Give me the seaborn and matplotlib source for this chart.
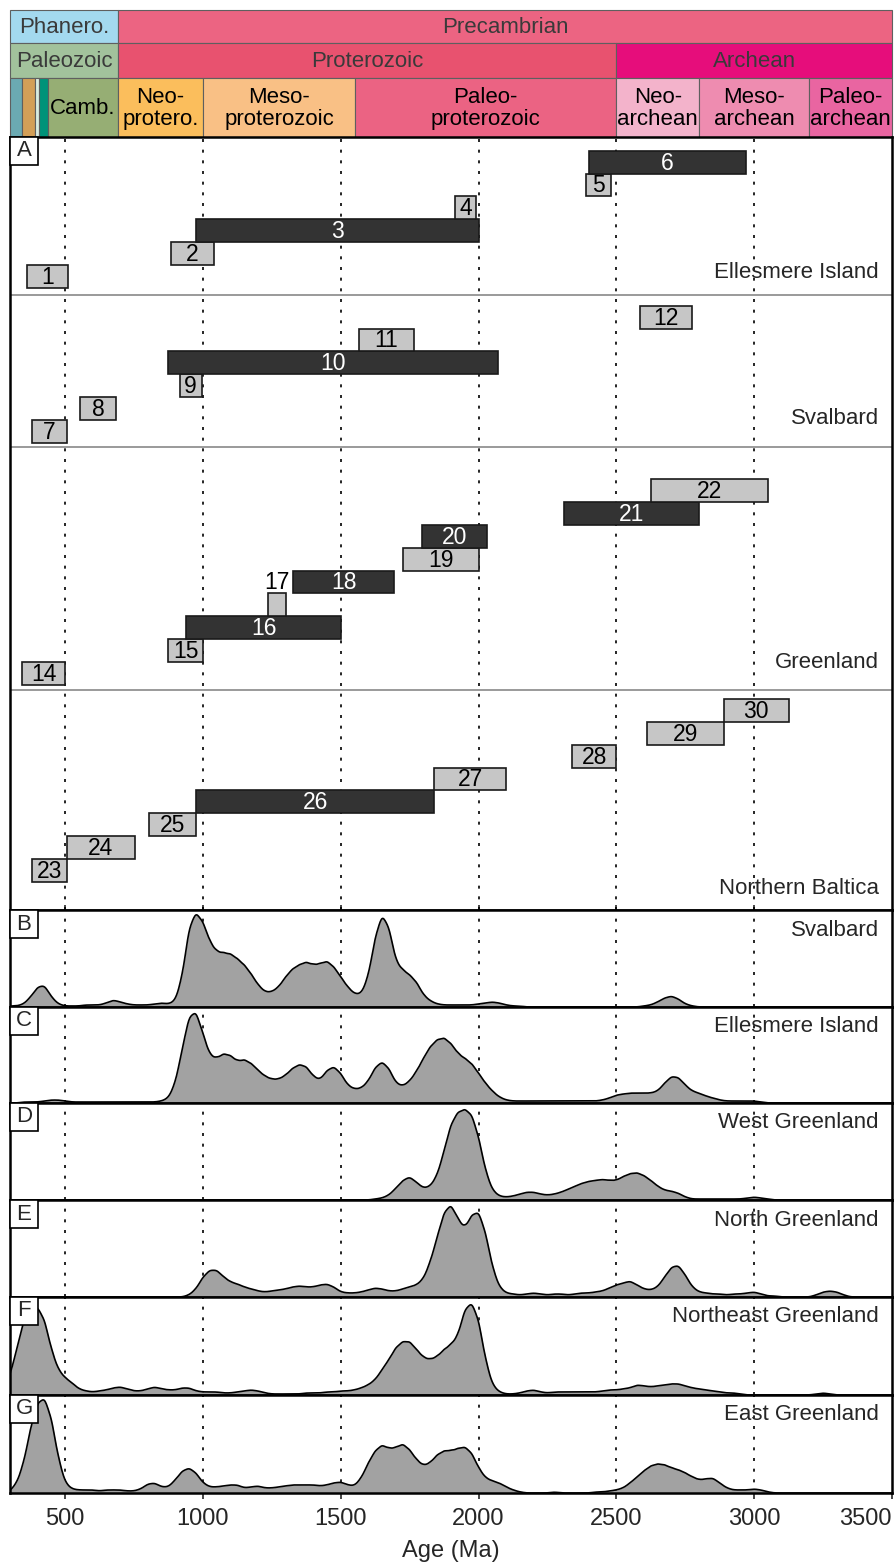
import numpy as np
import pandas as pd
import matplotlib.pyplot as plt
from matplotlib.patches import Rectangle
import seaborn as sns

sns.set_style('white')
plt.rcParams['font.family'] = ['Liberation Sans', 'DejaVu Sans']

# ---------------- timescale header ----------------
EON_NAMES = ['Phanero.', 'Precambrian']
EON_EDGES = [300, 693, 3500]
ERA_NAMES = ['Paleozoic', 'Proterozoic', 'Archean']
ERA_EDGES = [300, 693, 2500, 3500]
SUB_NAMES = ['', '', '', '', 'Camb.', 'Neo-\nprotero.', 'Meso-\nproterozoic',
             'Paleo-\nproterozoic', 'Neo-\narchean', 'Meso-\narchean', 'Paleo-\narchean']
SUB_EDGES = [300, 345, 389, 407, 437, 693, 1000, 1552, 2500, 2800, 3200, 3500]

EON_COLORS = ['#a3d9ef', '#ec6482']
ERA_COLORS = ['#a2c29c', '#e8526f', '#e60d7b']
SUB_COLORS = ['#6baab2', '#d39f57', '#d9ece1', '#009379', '#96ae74', '#fbbe5c',
              '#f9c085', '#eb6383', '#f3b3cb', '#ee8cb0', '#e965a1']

# ---------------- panel A: unit age ranges ----------------
REGIONS = ['Ellesmere Island', 'Svalbard', 'Greenland', 'Northern Baltica']

ELL_NUM = [1, 2, 3, 4, 5, 6]
ELL_FROM = [360, 885, 975, 1915, 2390, 2400]
ELL_TO = [510, 1040, 2000, 1990, 2480, 2970]
ELL_ROW = [0, 1, 2, 3, 4, 5]
ELL_DARK = [False, False, True, False, False, True]

SVA_NUM = [7, 8, 9, 10, 11, 12]
SVA_FROM = [380, 555, 915, 875, 1565, 2585]
SVA_TO = [505, 685, 995, 2070, 1765, 2775]
SVA_ROW = [0, 1, 2, 3, 4, 5]
SVA_DARK = [False, False, False, True, False, False]

GRE_NUM = [14, 15, 16, 17, 18, 19, 20, 21, 22]
GRE_FROM = [345, 875, 940, 1235, 1325, 1725, 1795, 2310, 2625]
GRE_TO = [500, 1000, 1500, 1300, 1695, 2000, 2030, 2800, 3050]
GRE_ROW = [0, 1, 2, 3, 4, 5, 6, 7, 8]
GRE_DARK = [False, False, True, False, True, False, True, True, False]

BAL_NUM = [23, 24, 25, 26, 27, 28, 29, 30]
BAL_FROM = [380, 505, 805, 975, 1840, 2340, 2610, 2890]
BAL_TO = [505, 755, 975, 1840, 2100, 2500, 2890, 3125]
BAL_ROW = [0, 1, 2, 3, 4, 5, 6, 7]
BAL_DARK = [False, False, False, True, False, False, False, False]

# ---------------- panels B-G: detrital age curves ----------------
# heights every 25 Ma (fraction of panel height)
AGE_GRID = list(range(300, 3501, 25))

KDE_LETTERS = ['B', 'C', 'D', 'E', 'F', 'G']
KDE_NAMES = ['Svalbard', 'Ellesmere Island', 'West Greenland', 'North Greenland',
             'Northeast Greenland', 'East Greenland']

SVALBARD = [
    0.01, 0.01, 0.03, 0.10, 0.20, 0.22, 0.10, 0.03,   # 300
    0.01, 0.01, 0.01, 0.02, 0.02, 0.02, 0.04, 0.07,   # 500
    0.05, 0.03, 0.02, 0.02, 0.02, 0.03, 0.04, 0.03,   # 700
    0.06, 0.30, 0.80, 0.95, 0.85, 0.65, 0.55, 0.54,   # 900
    0.53, 0.48, 0.42, 0.33, 0.22, 0.15, 0.15, 0.20,   # 1100
    0.30, 0.38, 0.42, 0.45, 0.42, 0.43, 0.46, 0.40,   # 1300
    0.30, 0.20, 0.13, 0.13, 0.30, 0.70, 0.93, 0.80,   # 1500
    0.45, 0.37, 0.32, 0.25, 0.12, 0.06, 0.03, 0.02,   # 1700
    0.02, 0.02, 0.02, 0.02, 0.03, 0.04, 0.05, 0.04,   # 1900
    0.02, 0.01, 0.01, 0.00, 0.00, 0.00, 0.00, 0.00,   # 2100
    0.00, 0.00, 0.00, 0.00, 0.00, 0.00, 0.00, 0.00,   # 2300
    0.00, 0.00, 0.00, 0.00, 0.01, 0.02, 0.05, 0.09,   # 2500
    0.11, 0.08, 0.03, 0.01, 0.00, 0.00, 0.00, 0.00,   # 2700
    0.00, 0.00, 0.00, 0.00, 0.00, 0.00, 0.00, 0.00,   # 2900
    0.00, 0.00, 0.00, 0.00, 0.00, 0.00, 0.00, 0.00,   # 3100
    0.00, 0.00, 0.00, 0.00, 0.00, 0.00, 0.00, 0.00,   # 3300
    0.00]
ELLESMERE = [
    0.00, 0.00, 0.01, 0.01, 0.01, 0.02, 0.03, 0.03,   # 300
    0.02, 0.01, 0.01, 0.01, 0.01, 0.01, 0.01, 0.01,   # 500
    0.01, 0.01, 0.01, 0.01, 0.01, 0.01, 0.02, 0.05,   # 700
    0.20, 0.55, 0.88, 0.93, 0.70, 0.48, 0.45, 0.50,   # 900
    0.48, 0.42, 0.44, 0.40, 0.33, 0.27, 0.24, 0.24,   # 1100
    0.28, 0.35, 0.39, 0.37, 0.27, 0.23, 0.33, 0.37,   # 1300
    0.30, 0.18, 0.14, 0.15, 0.22, 0.36, 0.42, 0.35,   # 1500
    0.20, 0.17, 0.22, 0.32, 0.45, 0.57, 0.64, 0.66,   # 1700
    0.60, 0.50, 0.45, 0.40, 0.30, 0.20, 0.12, 0.06,   # 1900
    0.03, 0.02, 0.02, 0.02, 0.02, 0.02, 0.02, 0.02,   # 2100
    0.02, 0.02, 0.02, 0.02, 0.02, 0.02, 0.03, 0.05,   # 2300
    0.08, 0.09, 0.10, 0.10, 0.10, 0.10, 0.12, 0.20,   # 2500
    0.27, 0.26, 0.18, 0.12, 0.10, 0.07, 0.05, 0.03,   # 2700
    0.02, 0.02, 0.02, 0.02, 0.02, 0.01, 0.00, 0.00,   # 2900
    0.00, 0.00, 0.00, 0.00, 0.00, 0.00, 0.00, 0.00,   # 3100
    0.00, 0.00, 0.00, 0.00, 0.00, 0.00, 0.00, 0.00,   # 3300
    0.00]
WEST_GREENLAND = [
    0.00, 0.00, 0.00, 0.00, 0.00, 0.00, 0.00, 0.00,   # 300
    0.00, 0.00, 0.00, 0.00, 0.00, 0.00, 0.00, 0.00,   # 500
    0.00, 0.00, 0.00, 0.00, 0.00, 0.00, 0.00, 0.00,   # 700
    0.00, 0.00, 0.00, 0.00, 0.00, 0.00, 0.00, 0.00,   # 900
    0.00, 0.00, 0.00, 0.00, 0.00, 0.00, 0.00, 0.00,   # 1100
    0.00, 0.00, 0.00, 0.00, 0.00, 0.00, 0.00, 0.00,   # 1300
    0.00, 0.00, 0.00, 0.00, 0.00, 0.01, 0.02, 0.05,   # 1500
    0.12, 0.20, 0.24, 0.18, 0.12, 0.14, 0.25, 0.50,   # 1700
    0.78, 0.90, 0.93, 0.88, 0.65, 0.30, 0.10, 0.04,   # 1900
    0.03, 0.04, 0.06, 0.08, 0.08, 0.06, 0.05, 0.06,   # 2100
    0.08, 0.11, 0.14, 0.17, 0.19, 0.20, 0.21, 0.20,   # 2300
    0.20, 0.24, 0.27, 0.28, 0.25, 0.20, 0.14, 0.10,   # 2500
    0.09, 0.07, 0.03, 0.01, 0.01, 0.01, 0.01, 0.01,   # 2700
    0.01, 0.01, 0.01, 0.02, 0.03, 0.02, 0.01, 0.00,   # 2900
    0.00, 0.00, 0.00, 0.00, 0.00, 0.00, 0.00, 0.00,   # 3100
    0.00, 0.00, 0.00, 0.00, 0.00, 0.00, 0.00, 0.00,   # 3300
    0.00]
NORTH_GREENLAND = [
    0.00, 0.00, 0.00, 0.00, 0.00, 0.00, 0.00, 0.00,   # 300
    0.00, 0.00, 0.00, 0.00, 0.00, 0.00, 0.00, 0.00,   # 500
    0.00, 0.00, 0.00, 0.00, 0.00, 0.00, 0.00, 0.00,   # 700
    0.00, 0.00, 0.02, 0.08, 0.20, 0.27, 0.27, 0.20,   # 900
    0.15, 0.13, 0.10, 0.08, 0.06, 0.05, 0.06, 0.07,   # 1100
    0.08, 0.10, 0.11, 0.10, 0.10, 0.12, 0.13, 0.10,   # 1300
    0.05, 0.04, 0.04, 0.05, 0.07, 0.09, 0.08, 0.06,   # 1500
    0.06, 0.08, 0.10, 0.12, 0.18, 0.35, 0.60, 0.85,   # 1700
    0.93, 0.78, 0.68, 0.82, 0.86, 0.65, 0.30, 0.10,   # 1900
    0.04, 0.03, 0.02, 0.03, 0.04, 0.03, 0.02, 0.03,   # 2100
    0.03, 0.02, 0.03, 0.04, 0.04, 0.05, 0.06, 0.09,   # 2300
    0.12, 0.14, 0.16, 0.12, 0.08, 0.07, 0.10, 0.20,   # 2500
    0.30, 0.32, 0.22, 0.10, 0.05, 0.04, 0.03, 0.03,   # 2700
    0.02, 0.03, 0.03, 0.04, 0.05, 0.03, 0.01, 0.01,   # 2900
    0.00, 0.00, 0.00, 0.00, 0.00, 0.02, 0.05, 0.06,   # 3100
    0.05, 0.02, 0.00, 0.00, 0.00, 0.00, 0.00, 0.00,   # 3300
    0.00]
NORTHEAST_GREENLAND = [
    0.20, 0.45, 0.75, 0.85, 0.87, 0.75, 0.45, 0.25,   # 300
    0.17, 0.12, 0.06, 0.04, 0.03, 0.04, 0.05, 0.07,   # 500
    0.08, 0.06, 0.04, 0.04, 0.06, 0.08, 0.06, 0.05,   # 700
    0.05, 0.07, 0.07, 0.04, 0.03, 0.03, 0.03, 0.02,   # 900
    0.02, 0.03, 0.04, 0.05, 0.04, 0.02, 0.01, 0.01,   # 1100
    0.01, 0.01, 0.01, 0.02, 0.02, 0.02, 0.03, 0.03,   # 1300
    0.04, 0.04, 0.05, 0.07, 0.10, 0.15, 0.25, 0.35,   # 1500
    0.47, 0.53, 0.53, 0.45, 0.37, 0.35, 0.38, 0.45,   # 1700
    0.50, 0.58, 0.85, 0.92, 0.75, 0.35, 0.10, 0.03,   # 1900
    0.01, 0.01, 0.02, 0.04, 0.05, 0.03, 0.02, 0.03,   # 2100
    0.03, 0.03, 0.03, 0.03, 0.03, 0.03, 0.04, 0.05,   # 2300
    0.05, 0.06, 0.07, 0.10, 0.09, 0.08, 0.09, 0.10,   # 2500
    0.11, 0.11, 0.09, 0.07, 0.06, 0.05, 0.04, 0.03,   # 2700
    0.02, 0.02, 0.01, 0.00, 0.00, 0.00, 0.00, 0.00,   # 2900
    0.00, 0.00, 0.00, 0.00, 0.00, 0.01, 0.02, 0.01,   # 3100
    0.00, 0.00, 0.00, 0.00, 0.00, 0.00, 0.00, 0.00,   # 3300
    0.00]
EAST_GREENLAND = [
    0.02, 0.10, 0.30, 0.65, 0.90, 0.95, 0.75, 0.35,   # 300
    0.10, 0.04, 0.03, 0.03, 0.03, 0.02, 0.03, 0.03,   # 500
    0.03, 0.02, 0.02, 0.04, 0.09, 0.10, 0.06, 0.06,   # 700
    0.13, 0.22, 0.25, 0.20, 0.10, 0.06, 0.06, 0.07,   # 900
    0.08, 0.08, 0.05, 0.06, 0.07, 0.05, 0.05, 0.06,   # 1100
    0.07, 0.08, 0.08, 0.08, 0.08, 0.07, 0.08, 0.10,   # 1300
    0.11, 0.08, 0.07, 0.15, 0.30, 0.42, 0.48, 0.44,   # 1500
    0.45, 0.49, 0.43, 0.33, 0.27, 0.30, 0.38, 0.42,   # 1700
    0.42, 0.44, 0.46, 0.40, 0.25, 0.15, 0.12, 0.10,   # 1900
    0.06, 0.03, 0.01, 0.00, 0.00, 0.00, 0.00, 0.01,   # 2100
    0.00, 0.00, 0.00, 0.00, 0.00, 0.01, 0.01, 0.02,   # 2300
    0.03, 0.05, 0.10, 0.16, 0.22, 0.27, 0.29, 0.28,   # 2500
    0.25, 0.23, 0.20, 0.16, 0.13, 0.14, 0.15, 0.10,   # 2700
    0.05, 0.03, 0.03, 0.03, 0.04, 0.03, 0.01, 0.00,   # 2900
    0.00, 0.00, 0.00, 0.00, 0.00, 0.00, 0.00, 0.00,   # 3100
    0.00, 0.00, 0.00, 0.00, 0.00, 0.00, 0.00, 0.00,   # 3300
    0.00]
KDE_CURVES = [SVALBARD, ELLESMERE, WEST_GREENLAND, NORTH_GREENLAND,
              NORTHEAST_GREENLAND, EAST_GREENLAND]

GUIDE_AGES = [500, 1000, 1500, 2000, 2500, 3000]
TICK_AGES = [500, 1000, 1500, 2000, 2500, 3000, 3500]

# ---------------- figure ----------------
W, H = 896, 1562
fig = plt.figure(figsize=(W / 100, H / 100), dpi=100)


def frame(top, bottom):
    # axes placed by pixel rows, always spanning x = 10..892 px
    return fig.add_axes([10 / W, 1 - bottom / H, 882 / W, (bottom - top) / H])


def letter_box(ax, letter, h_px):
    ax.add_patch(Rectangle((0, 1), 28 / 882, -28 / h_px, transform=ax.transAxes,
                           facecolor='white', edgecolor='black', linewidth=1.2,
                           zorder=8, clip_on=False))
    ax.text(14 / 882, 1 - 14 / h_px, letter, transform=ax.transAxes, ha='center',
            va='center', fontsize=16, zorder=9)


def style_frame(ax):
    ax.set_xlim(300, 3500)
    for s in ax.spines.values():
        s.set_color('black')
        s.set_linewidth(1.8)
        s.set_visible(True)
    ax.set_yticks([])
    ax.set_ylabel('')
    ax.set_xlabel('')


dots = (0, (1.8, 4.6))

# header
hdr = frame(10, 137)
hdr.set_xlim(300, 3500)
hdr.set_ylim(137, 10)
hdr.axis('off')
bands = [(EON_NAMES, EON_EDGES, EON_COLORS, 10, 43, '#3a3a3a'),
         (ERA_NAMES, ERA_EDGES, ERA_COLORS, 43, 78, '#3a3a3a'),
         (SUB_NAMES, SUB_EDGES, SUB_COLORS, 78, 137, 'black')]
for names, edges, colors, top, bot, tcol in bands:
    hdr.barh(y=top, width=np.diff(edges), left=edges[:-1], height=bot - top,
             align='edge', color=colors, edgecolor='#5f5f5f', linewidth=0.8,
             clip_on=False)
    for name, lo, hi in zip(names, edges[:-1], edges[1:]):
        hdr.text((lo + hi) / 2, (top + bot) / 2 + 1, name, ha='center', va='center',
                 fontsize=16, color=tcol, linespacing=1.05)

# panel A
ROW_H = 22.9
axA = frame(137, 910)
style_frame(axA)
axA.set_ylim(0, 773)
axA.set_xticks(GUIDE_AGES)
axA.set_xticklabels([])
axA.tick_params(axis='x', direction='inout', length=7, width=1.2, bottom=True)
for a in GUIDE_AGES:
    axA.axvline(a, color='black', lw=1.2, ls=dots, zorder=1)
for y in [220, 463, 615]:
    axA.axhline(y, color='#9a9a9a', lw=1.4, zorder=2)

region_base = [622, 467, 225, 28]
region_label_y = [637, 492, 248, 22]
region_sets = [(ELL_NUM, ELL_FROM, ELL_TO, ELL_ROW, ELL_DARK),
               (SVA_NUM, SVA_FROM, SVA_TO, SVA_ROW, SVA_DARK),
               (GRE_NUM, GRE_FROM, GRE_TO, GRE_ROW, GRE_DARK),
               (BAL_NUM, BAL_FROM, BAL_TO, BAL_ROW, BAL_DARK)]
label_above = [17]
for name, base, ly, (nums, starts, ends, rows, dark) in zip(
        REGIONS, region_base, region_label_y, region_sets):
    bottoms = [base + r * ROW_H for r in rows]
    widths = [e - s for s, e in zip(starts, ends)]
    colors = ['#333333' if d else '#c6c6c6' for d in dark]
    axA.barh(y=bottoms, width=widths, left=starts, height=ROW_H, align='edge',
             color=colors, edgecolor='#1a1a1a', linewidth=1.2, zorder=3)
    for n, s, e, b, d in zip(nums, starts, ends, bottoms, dark):
        yc = b + ROW_H / 2 - 1
        if n in label_above:
            yc += ROW_H
        axA.text((s + e) / 2, yc, str(n), ha='center', va='center', fontsize=16.5,
                 color='white' if (d and n not in label_above) else 'black', zorder=4)
    axA.text(0.985, ly, name, transform=axA.get_yaxis_transform(), ha='right',
             va='center', fontsize=16, zorder=4)
letter_box(axA, 'A', 773)

# panels B-G
tops = [910, 1007, 1103, 1200, 1297, 1395, 1493]
for i, (letter, name, curve) in enumerate(zip(KDE_LETTERS, KDE_NAMES, KDE_CURVES)):
    top, bot = tops[i], tops[i + 1]
    ax = frame(top, bot)
    df = pd.DataFrame({'age': AGE_GRID, 'w': curve})
    w = np.array(curve)
    a = np.array(AGE_GRID, dtype=float)
    mu = np.average(a, weights=w)
    sd = np.sqrt(np.average((a - mu) ** 2, weights=w))
    sns.kdeplot(data=df, x='age', weights='w', bw_method=14 / sd, cut=0,
                clip=(300, 3500), gridsize=1600, color='black', linewidth=1.2,
                ax=ax, zorder=3)
    line = ax.lines[-1]
    xs, ys = line.get_xdata(), line.get_ydata()
    ax.fill_between(xs, 0, ys, color='#a2a2a2', lw=0, zorder=2)
    ax.set_ylim(0, ys.max() / max(curve))
    style_frame(ax)
    for g in GUIDE_AGES:
        ax.axvline(g, color='black', lw=1.2, ls=dots, zorder=1)
    h = bot - top
    ax.text(0.985, 1 - 20 / h, name, transform=ax.transAxes, ha='right',
            va='center', fontsize=16, zorder=5)
    letter_box(ax, letter, h)
    if letter == 'G':
        ax.set_xticks(TICK_AGES)
        ax.set_xticklabels([str(t) for t in TICK_AGES])
        ax.tick_params(axis='x', direction='out', length=4, width=1.2, pad=7,
                       labelsize=17, bottom=True)
        ax.get_xticklabels()[-1].set_ha('right')
        ax.set_xlabel('Age (Ma)', fontsize=17, labelpad=7)
    else:
        ax.set_xticks([])

fig.savefig('out.png', dpi=100)
